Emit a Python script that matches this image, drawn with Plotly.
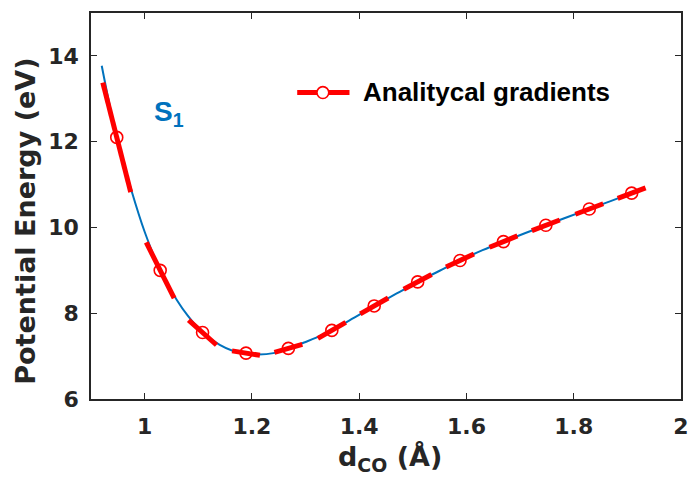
import plotly.graph_objects as go

# Blue S1 potential curve
curve_x = [0.92, 0.948, 0.975, 1.0, 1.029, 1.06, 1.08, 1.108, 1.14, 1.165, 1.189, 1.21,
           1.24, 1.268, 1.30, 1.32, 1.349, 1.39, 1.428, 1.47, 1.509, 1.55, 1.588, 1.63,
           1.669, 1.71, 1.748, 1.79, 1.829, 1.87, 1.908, 1.93]
curve_y = [13.77, 12.1, 10.88, 9.9, 9.0, 8.31, 7.95, 7.55, 7.26, 7.12, 7.07, 7.04,
           7.07, 7.18, 7.33, 7.43, 7.6, 7.89, 8.17, 8.46, 8.73, 8.99, 9.23, 9.47,
           9.67, 9.87, 10.05, 10.25, 10.43, 10.62, 10.8, 10.9]

# Analytical gradient points and slopes (eV/Angstrom)
pt_x = [0.948, 1.029, 1.108, 1.189, 1.268, 1.349, 1.428, 1.509, 1.588, 1.669, 1.748, 1.829, 1.908]
pt_y = [12.1, 9.0, 7.55, 7.07, 7.18, 7.6, 8.17, 8.73, 9.23, 9.67, 10.05, 10.43, 10.8]
slopes = [-49.0, -25.0, -11.2, -2.0, 3.6, 7.2, 7.1, 6.6, 5.9, 5.1, 4.75, 4.7, 4.7]
half_dx = 0.026

x_ticks = [1, 1.2, 1.4, 1.6, 1.8, 2]
x_ticklabels = ["1", "1.2", "1.4", "1.6", "1.8", "2"]
y_ticks = [6, 8, 10, 12, 14]
y_ticklabels = ["6", "8", "10", "12", "14"]

seg_x, seg_y = [], []
for x0, y0, s in zip(pt_x, pt_y, slopes):
    seg_x += [x0 - half_dx, x0 + half_dx, None]
    seg_y += [y0 - s * half_dx, y0 + s * half_dx, None]

BLUE = "#0072BD"
RED = "#FF0000"
AX = "#262626"

fig = go.Figure()
fig.add_trace(go.Scatter(x=curve_x, y=curve_y, mode="lines",
                         line=dict(color=BLUE, width=2, shape="spline", smoothing=1),
                         showlegend=False, hoverinfo="skip"))
fig.add_trace(go.Scatter(x=seg_x, y=seg_y, mode="lines",
                         line=dict(color=RED, width=5), showlegend=False))
fig.add_trace(go.Scatter(x=pt_x, y=pt_y, mode="markers",
                         marker=dict(symbol="circle-open", size=12, color=RED,
                                     line=dict(width=1.6, color=RED)),
                         showlegend=False))

tickfont = dict(family="DejaVu Sans", size=22, color=AX, weight="bold")
titlefont = dict(family="DejaVu Sans", size=27, color=AX, weight="bold")
fig.update_layout(
    width=700, height=480,
    margin=dict(l=91, r=11, t=11, b=81),
    paper_bgcolor="white", plot_bgcolor="white",
    xaxis=dict(range=[0.9, 2.0], tickvals=x_ticks, ticktext=x_ticklabels,
               showline=True, linecolor=AX, linewidth=1.5, mirror="allticks",
               ticks="inside", ticklen=6, tickwidth=1.2, tickcolor=AX,
               showgrid=False, zeroline=False, tickfont=tickfont,
               ticklabelstandoff=7),
    yaxis=dict(range=[6, 15], tickvals=y_ticks, ticktext=y_ticklabels,
               showline=True, linecolor=AX, linewidth=1.5, mirror="allticks",
               ticks="inside", ticklen=6, tickwidth=1.2, tickcolor=AX,
               showgrid=False, zeroline=False, tickfont=tickfont,
               ticklabelstandoff=6),
)

def px_x(p):
    return (p - 91) / 598.0

def px_y(p):
    return (399 - p) / 388.0

# Axis titles
fig.add_annotation(xref="paper", yref="paper", x=px_x(25), y=px_y(220),
                   xanchor="center", yanchor="middle", showarrow=False, textangle=-90,
                   text="Potential Energy (eV)", font=titlefont)
fig.add_annotation(xref="paper", yref="paper", x=px_x(394), y=px_y(459),
                   xanchor="center", yanchor="middle", showarrow=False,
                   text="d<sub>CO</sub> (Å)", font=titlefont)

# Legend drawn manually
fig.add_shape(type="line", xref="paper", yref="paper",
              x0=px_x(300), x1=px_x(353), y0=px_y(91), y1=px_y(91),
              line=dict(color=RED, width=5))
fig.add_shape(type="circle", xref="paper", yref="paper",
              x0=px_x(320), x1=px_x(332), y0=px_y(85), y1=px_y(97),
              line=dict(color=RED, width=1.6), fillcolor="white")
fig.add_annotation(xref="paper", yref="paper", x=px_x(365), y=px_y(90),
                   xanchor="left", yanchor="middle", showarrow=False,
                   text="Analitycal gradients",
                   font=dict(family="Liberation Sans", size=26, color="black", weight="bold"))
fig.add_annotation(xref="paper", yref="paper", x=px_x(153), y=px_y(112),
                   xanchor="left", yanchor="middle", showarrow=False,
                   text="S<sub>1</sub>",
                   font=dict(family="Liberation Sans", size=28, color=BLUE, weight="bold"))

fig.write_html("out.html")
